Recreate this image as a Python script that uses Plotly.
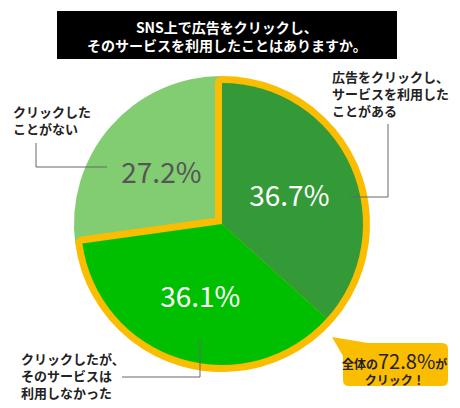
import plotly.graph_objects as go

# 「SNS上で広告をクリックし、そのサービスを利用したことはありますか。」
answers = [
    "広告をクリックし、サービスを利用したことがある",
    "クリックしたが、そのサービスは利用しなかった",
    "クリックしたことがない",
]
shares = [36.7, 36.1, 27.2]
clicked_share = round(shares[0] + shares[1], 1)  # 72.8

dark_green = "#349a37"
green = "#00bf00"
light_green = "#82cc72"
orange = "#fbbd00"
clear = "rgba(0,0,0,0)"
ink = "#222222"
jp = "Noto Sans CJK JP"

W, H = 460, 408
cx, cy, R, band = 222, 224, 148, 7


def px(x, y):
    return x / W, 1 - y / H


def dom(r):
    return dict(x=[(cx - r) / W, (cx + r) / W],
                y=[(H - cy - r) / H, (H - cy + r) / H])


common = dict(sort=False, direction="clockwise", rotation=0,
              hoverinfo="skip", showlegend=False)

fig = go.Figure()

# light slice at full radius
fig.add_trace(go.Pie(
    labels=answers, values=shares, domain=dom(R), textinfo="none",
    marker=dict(colors=[clear, clear, light_green], line=dict(width=0)),
    **common))

# orange frame around the "clicked" part
fig.add_trace(go.Pie(
    labels=["クリックした", "クリックしたことがない"],
    values=[clicked_share, shares[2]], domain=dom(R - band), textinfo="none",
    marker=dict(colors=[orange, clear],
                line=dict(color=[orange, clear], width=[band * 2, 0])),
    **common))

# inner slices with the percentages
fig.add_trace(go.Pie(
    labels=answers, values=shares, domain=dom(R - band),
    texttemplate="%{value:.1f}%", textposition="inside",
    insidetextorientation="horizontal",
    textfont=dict(family=jp, size=28,
                  color=["white", "white", "#555555"]),
    marker=dict(colors=[dark_green, green, clear], line=dict(width=0)),
    **common))

shapes = []
annotations = []

# title box
x0, y0 = px(57, 11)
x1, y1 = px(397, 59)
shapes.append(dict(type="rect", xref="paper", yref="paper", x0=x0, y0=y0,
                   x1=x1, y1=y1, fillcolor="black", line=dict(width=0),
                   layer="above"))
tx, ty = px(227, 36)
annotations.append(dict(
    text="<b>SNS上で広告をクリックし、<br>そのサービスを利用したことはありますか。</b>",
    x=tx, y=ty, xref="paper", yref="paper", showarrow=False,
    xanchor="center", yanchor="middle",
    font=dict(family=jp, size=14, color="white"), align="center"))


def leader(points):
    path = "M " + " L ".join(f"{p[0]},{p[1]}" for p in (px(*q) for q in points))
    shapes.append(dict(type="path", xref="paper", yref="paper", path=path,
                       line=dict(color="#666666", width=1), layer="above"))


def label(text, x, y):
    ax, ay = px(x, y)
    annotations.append(dict(
        text=f"<b>{text}</b>", x=ax, y=ay, xref="paper", yref="paper",
        xanchor="left", yanchor="top", align="left", showarrow=False,
        font=dict(family=jp, size=13, color=ink)))


label("広告をクリックし、<br>サービスを利用した<br>ことがある", 330, 65)
leader([(388, 124), (388, 197), (350, 197)])

label("クリックした<br>ことがない", 11, 100)
leader([(36, 143), (36, 167), (107, 167)])

label("クリックしたが、<br>そのサービスは<br>利用しなかった", 19, 347)
leader([(200, 340), (200, 377), (122, 377)])

# callout bubble
bx0, by0, bx1, by1, rr = 343, 343, 448, 386, 6


def P(x, y):
    a, b = px(x, y)
    return f"{a},{b}"


path = (
    f"M {P(332, 337)} L {P(368, by0)} L {P(bx1 - rr, by0)} "
    f"Q {P(bx1, by0)} {P(bx1, by0 + rr)} L {P(bx1, by1 - rr)} "
    f"Q {P(bx1, by1)} {P(bx1 - rr, by1)} L {P(bx0 + rr, by1)} "
    f"Q {P(bx0, by1)} {P(bx0, by1 - rr)} L {P(bx0, 356)} Z"
)
shapes.append(dict(type="path", xref="paper", yref="paper", path=path,
                   fillcolor=orange, line=dict(width=0), layer="above"))
cx_, cy_ = px(394, 367)
annotations.append(dict(
    text=(f"<b>全体の</b><span style='font-size:20px'>{clicked_share}%</span>"
          "<b>が<br>クリック！</b>"),
    x=cx_, y=cy_, xref="paper", yref="paper", showarrow=False, align="center",
    xanchor="center", yanchor="middle",
    font=dict(family=jp, size=12, color=ink)))

fig.update_layout(
    width=W, height=H, margin=dict(l=0, r=0, t=0, b=0),
    paper_bgcolor="white", plot_bgcolor="white",
    shapes=shapes, annotations=annotations,
)

fig.write_html("out.html", config={"displayModeBar": False},
               post_script="document.body.style.margin='0';")
